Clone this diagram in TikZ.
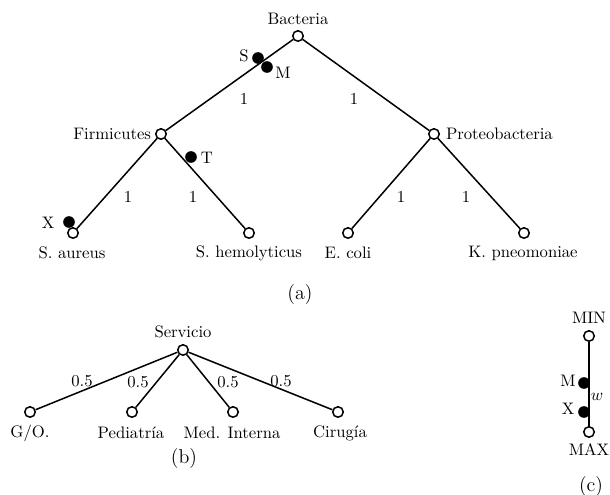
\documentclass[tikz,border=0pt]{standalone}
\begin{document}
\begin{tikzpicture}[x=0.6pt,y=-0.6pt,
  vtx/.style={circle,draw=black,fill=white,line width=0.9pt,minimum size=6.3pt,inner sep=0pt},
  blk/.style={circle,fill=black,minimum size=7pt,inner sep=0pt},
  edge/.style={line width=0.9pt},
  lbl/.style={inner sep=1pt,font=\fontsize{10}{12}\selectfont},
  capt/.style={inner sep=1pt,font=\fontsize{12}{14}\selectfont}]
\useasboundingbox (0,0) rectangle (610,495);
% (a)
\node[vtx] (bac) at (298,36) {};
\node[vtx] (fir) at (161,134) {};
\node[vtx] (pro) at (434,134) {};
\node[vtx] (sau) at (73,233) {};
\node[vtx] (shm) at (249,233) {};
\node[vtx] (eco) at (348,233) {};
\node[vtx] (kpn) at (524,233) {};
\draw[edge] (bac) -- (fir);
\draw[edge] (bac) -- (pro);
\draw[edge] (fir) -- (sau);
\draw[edge] (fir) -- (shm);
\draw[edge] (pro) -- (eco);
\draw[edge] (pro) -- (kpn);
\node[lbl] (tbac) at (298,19) {Bacteria};
\node[lbl,anchor=east] (tfir) at (153,134) {Firmicutes};
\node[lbl,anchor=west] (tpro) at (444,134) {Proteobacteria};
\node[lbl] (tsau) at (72,253) {S. aureus};
\node[lbl] (tshm) at (249,253) {S. hemolyticus};
\node[lbl] (teco) at (348,253) {E. coli};
\node[lbl] (tkpn) at (523,253) {K. pneomoniae};
\node[lbl] (w1) at (244,99) {1};
\node[lbl] (w2) at (354,99) {1};
\node[lbl] (w3) at (128,197) {1};
\node[lbl] (w4) at (193,197) {1};
\node[lbl] (w5) at (401,197) {1};
\node[lbl] (w6) at (466,197) {1};
\node[blk] (dS) at (258,58) {};
\node[blk] (dM) at (267,67) {};
\node[blk] (dT) at (191,157) {};
\node[blk] (dX) at (69,222) {};
\node[lbl] (tS) at (244,56) {S};
\node[lbl] (tM) at (283,73) {M};
\node[lbl] (tT) at (207,158) {T};
\node[lbl] (tX) at (48,223) {X};
\node[capt] (capa) at (300,295) {(a)};
% (b)
\node[vtx] (ser) at (183,350) {};
\node[vtx] (go) at (30,412) {};
\node[vtx] (ped) at (132,412) {};
\node[vtx] (med) at (233,412) {};
\node[vtx] (cir) at (338,412) {};
\draw[edge] (ser) -- (go);
\draw[edge] (ser) -- (ped);
\draw[edge] (ser) -- (med);
\draw[edge] (ser) -- (cir);
\node[lbl] (tser) at (183,332) {Servicio};
\node[lbl] (tgo) at (30,433) {G/O.};
\node[lbl] (tped) at (131,433) {Pediatría};
\node[lbl] (tmed) at (232,433) {Med. Interna};
\node[lbl] (tcir) at (340,433) {Cirugía};
\node[lbl] (h1) at (82,381) {0.5};
\node[lbl] (h2) at (138,382) {0.5};
\node[lbl] (h3) at (228,382) {0.5};
\node[lbl] (h4) at (281,381) {0.5};
\node[capt] (capb) at (184,459) {(b)};
% (c)
\node[vtx] (min) at (589,336) {};
\node[vtx] (max) at (589,432) {};
\draw[edge] (min) -- (max);
\node[blk] (dM2) at (584,383) {};
\node[blk] (dX2) at (584,412) {};
\node[lbl] (tmin) at (589,318) {MIN};
\node[lbl] (tmax) at (589,450) {MAX};
\node[lbl] (tM2) at (568,381) {M};
\node[lbl] (tX2) at (568,409) {X};
\node[lbl] (tw) at (597,397) {$w$};
\node[capt] (capc) at (591,487) {(c)};
\end{tikzpicture}
\end{document}
